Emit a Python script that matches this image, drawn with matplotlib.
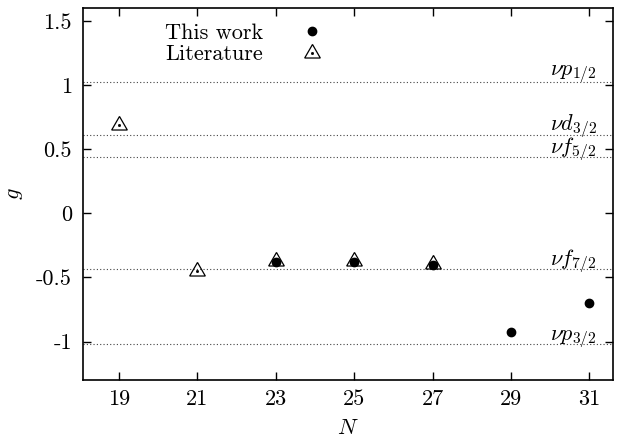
import matplotlib
matplotlib.use("Agg")
import matplotlib.pyplot as plt
from matplotlib.legend_handler import HandlerTuple

plt.rcParams['font.family'] = 'serif'
plt.rcParams['font.serif'] = ['cmr10']
plt.rcParams['mathtext.fontset'] = 'cm'
plt.rcParams['axes.unicode_minus'] = False

# Data
N_this = [23, 25, 27, 29, 31]
g_this = [-0.38, -0.38, -0.40, -0.925, -0.70]
N_lit = [19, 21, 23, 25, 27]
g_lit = [0.69, -0.45, -0.375, -0.375, -0.395]

orb_labels = [r'$\nu p_{1/2}$', r'$\nu d_{3/2}$', r'$\nu f_{5/2}$', r'$\nu f_{7/2}$', r'$\nu p_{3/2}$']
orb_g = [1.02, 0.612, 0.437, -0.437, -1.02]
orb_label_y = [1.075, 0.648, 0.465, -0.405, -0.99]

xticks = [19, 21, 23, 25, 27, 29, 31]
yticks = [-1, -0.5, 0, 0.5, 1, 1.5]
ytick_labels = ['-1', '-0.5', '0', '0.5', '1', '1.5']

FS = 16

fig = plt.figure(figsize=(6.31, 4.42), dpi=100)
ax = fig.add_axes([83/631, 1-380/442, (613-83)/631, (380-8)/442])
ax.set_xlim(18.08, 31.6)
ax.set_ylim(-1.3, 1.6)

for gval, lab, ly in zip(orb_g, orb_labels, orb_label_y):
    ax.axhline(gval, color='#444444', lw=0.8, ls=(0, (1, 2)), zorder=1)
    ax.text(30.0, ly, lab, fontsize=FS, ha='left', va='baseline')

h_circ, = ax.plot(N_this, g_this, 'o', color='black', ms=6, ls='none', zorder=3)
h_tri, = ax.plot(N_lit, g_lit, ls='none', marker=(3, 0, 0), ms=13, mfc='none',
                 mec='black', mew=0.9, zorder=4)
h_dot, = ax.plot(N_lit, g_lit, ls='none', marker='s', ms=1.0, color='black', zorder=4)

leg = ax.legend([h_circ, (h_tri, h_dot)], ['This work', 'Literature'],
                handler_map={tuple: HandlerTuple(ndivide=1)},
                loc='upper left', bbox_to_anchor=((165-83)/530, (380-23)/372),
                frameon=False, markerfirst=False, fontsize=FS, handlelength=1.5,
                handletextpad=1.43, labelspacing=0.1, borderpad=0.0,
                borderaxespad=0.0)

ax.set_xticks(xticks)
ax.set_xticklabels([str(v) for v in xticks])
ax.set_yticks(yticks)
ax.set_yticklabels(ytick_labels)
ax.tick_params(direction='in', length=6, width=1.0, top=True, right=True,
               labelsize=FS, pad=8)
ax.tick_params(axis='x', pad=7)
for sp in ax.spines.values():
    sp.set_linewidth(1.2)

ax.set_xlabel(r'$N$', fontsize=FS, va='center')
ax.xaxis.set_label_coords(0.5, -(428-380)/372)
ax.set_ylabel(r'$g$', fontsize=FS, rotation=90, va='center')
ax.yaxis.set_label_coords(-(83-15)/530, 0.5)

fig.savefig('out.png', dpi=100)
